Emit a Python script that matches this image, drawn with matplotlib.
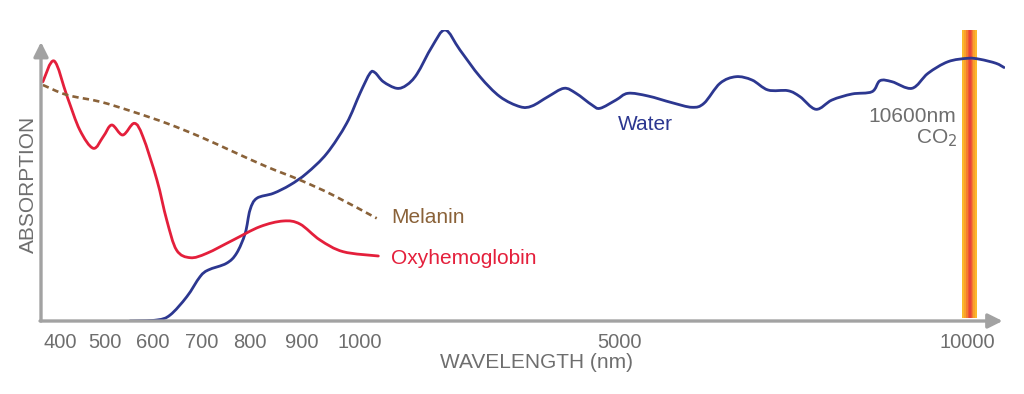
import numpy as np
import matplotlib
matplotlib.use("Agg")
import matplotlib.pyplot as plt
from matplotlib.path import Path
from matplotlib.patches import PathPatch

# ---------------- data (wavelength in nm, absorption in arbitrary units) ----------------
oxy_nm = [362, 387, 416, 444, 474, 496, 514, 537, 561, 579, 608, 628, 648, 676,
          710, 765, 819, 864, 896, 931, 971, 1283]
oxy_abs = [239.3, 260, 224.3, 191, 172.7, 184.3, 196, 186, 197.7, 184.3, 141, 101,
           71, 63.3, 67.7, 81, 94.3, 100, 97, 81, 69.3, 65]

mel_nm = [362, 416, 489, 558, 628, 696, 765, 832, 896, 953, 1258]
mel_abs = [236, 226, 219.3, 209.3, 197.7, 184.3, 169.3, 154.3, 141, 126, 102.7]

water_nm = [552, 608, 635, 669, 696, 713, 751, 772, 790, 800, 813, 845, 877, 908,
            943, 977, 1000, 1154, 1232, 1360, 1567, 1721, 1880, 2112, 2316, 2544,
            2853, 3162, 3471, 3656, 3903, 4151, 4336, 4583, 4707, 4954, 5129, 5417,
            5762, 6049, 6221, 6451, 6681, 6911, 7141, 7428, 7601, 7830, 8060, 8348,
            8635, 8750, 8922, 9210, 9440, 9727, 10014, 10187, 10417, 10532]
water_abs = [0, 1, 6, 24.3, 44.3, 51, 57.7, 67.7, 87.7, 111, 122.7, 127.7, 136,
             147.7, 167.7, 197.7, 227.7, 247.7, 248.3, 239.3, 232.7, 236, 247,
             274.3, 291, 271, 244.3, 224.3, 214.3, 215, 224.3, 232.7, 227.7, 216,
             212.7, 221, 227.7, 225, 218.3, 213.7, 217.7, 237.7, 244.3, 241, 231,
             230.3, 224.3, 211.7, 221, 227, 229.3, 240.3, 239.3, 232.7, 247.7,
             259.3, 262.7, 261.7, 257.7, 253.5]

tick_values = [400, 500, 600, 700, 800, 900, 1000, 5000, 10000]
tick_labels = ["400", "500", "600", "700", "800", "900", "1000", "5000", "10000"]

co2_band = (9928, 10144)  # CO2 laser band drawn at the 10000 position

# ---------------- piecewise axis scale (schematic wavelength axis) ----------------
scale_nm = np.array([300, 400, 500, 600, 700, 800, 900, 1000, 5000, 10000, 11000], float)
scale_pos = np.array([15, 60, 105, 153, 202, 250, 302, 360, 619, 967, 1036.6], float)


def fwd(x):
    return np.interp(x, scale_nm, scale_pos)


def inv(p):
    return np.interp(p, scale_pos, scale_nm)


def smooth_path(xs, ys):
    """Cubic Bezier path through the data points (Catmull-Rom tangents
    computed on the axis' own position scale)."""
    px = fwd(np.asarray(xs, float))
    py = np.asarray(ys, float)
    n = len(px)
    verts = [(xs[0], ys[0])]
    codes = [Path.MOVETO]
    for i in range(n - 1):
        i0 = max(i - 1, 0)
        i3 = min(i + 2, n - 1)
        c1x = px[i] + (px[i + 1] - px[i0]) / 6.0
        c1y = py[i] + (py[i + 1] - py[i0]) / 6.0
        c2x = px[i + 1] - (px[i3] - px[i]) / 6.0
        c2y = py[i + 1] - (py[i3] - py[i]) / 6.0
        verts += [(inv(c1x), c1y), (inv(c2x), c2y), (xs[i + 1], ys[i + 1])]
        codes += [Path.CURVE4] * 3
    return Path(verts, codes)


FONT = ["Liberation Sans", "DejaVu Sans"]
plt.rcParams["font.family"] = FONT
GRAY_TXT = "#6e6e6e"
GRAY_AX = "#a2a2a2"
RED = "#e41f3b"
BLUE = "#2c3790"
BROWN = "#8a6239"

W, H = 1024, 394
fig = plt.figure(figsize=(W / 100, H / 100), dpi=100)
ax = fig.add_axes([41 / W, (H - 321) / H, (1005 - 41) / W, 291 / H])
ax.set_xscale("function", functions=(fwd, inv))
ax.set_xlim(inv(41), inv(1005))
ax.set_ylim(0, 291)

# CO2 band (gradient from yellow edges to red centre)
lo, hi = co2_band
bw = hi - lo
layers = [(0.00, 1.00, "#fbb92c"), (0.15, 0.85, "#f9a02c"), (0.28, 0.75, "#f47d2e"),
          (0.38, 0.66, "#ee5a33"), (0.45, 0.58, "#e9443a")]
for a, b, c in layers:
    ax.axvspan(lo + a * bw, lo + b * bw, ymin=3 / 291, ymax=1.0, color=c, lw=0, zorder=1)

ax.add_patch(PathPatch(smooth_path(water_nm, water_abs), fill=False, edgecolor=BLUE,
                       lw=2.0, joinstyle="round", capstyle="round", zorder=3))
ax.add_patch(PathPatch(smooth_path(oxy_nm, oxy_abs), fill=False, edgecolor=RED,
                       lw=2.0, joinstyle="round", capstyle="round", zorder=3))
ax.add_patch(PathPatch(smooth_path(mel_nm, mel_abs), fill=False, edgecolor=BROWN,
                       lw=1.9, ls=(0, (2.4, 1.6)), zorder=3))

# axes with arrows
for s in ax.spines.values():
    s.set_visible(False)
ax.set_yticks([])
ax.set_xticks(tick_values)
ax.set_xticklabels(tick_labels)
ax.tick_params(axis="x", length=0, pad=9, labelsize=14.5, labelcolor=GRAY_TXT)

arrow = dict(arrowstyle="-|>,head_length=0.62,head_width=0.31", color=GRAY_AX,
             lw=2.4, mutation_scale=14, shrinkA=0, shrinkB=0)
ax.annotate("", xy=(0.9975, 0), xytext=(-0.001, 0), xycoords="axes fraction",
            arrowprops=arrow, annotation_clip=False, zorder=5)
ax.annotate("", xy=(0, 279 / 291), xytext=(0, 0), xycoords="axes fraction",
            arrowprops=arrow, annotation_clip=False, zorder=5)

# labels
ax.text(inv(391), 103, "Melanin", color=BROWN, fontsize=15, va="center", ha="left")
ax.text(inv(391), 62, "Oxyhemoglobin", color=RED, fontsize=15, va="center", ha="left")
ax.text(inv(645), 196, "Water", color=BLUE, fontsize=15, va="center", ha="center")
ax.text(inv(956), 204, "10600nm", color=GRAY_TXT, fontsize=15, va="center", ha="right")
ax.text(inv(957), 183, "CO$_2$", color=GRAY_TXT, fontsize=15, va="center", ha="right")

fig.text(537 / W, 1 - 363 / H, "WAVELENGTH (nm)", color=GRAY_TXT, fontsize=15,
         ha="center", va="center")
fig.text(28 / W, 1 - 184 / H, "ABSORPTION", color=GRAY_TXT, fontsize=15,
         ha="center", va="center", rotation=90)

fig.savefig("out.png", dpi=100)
